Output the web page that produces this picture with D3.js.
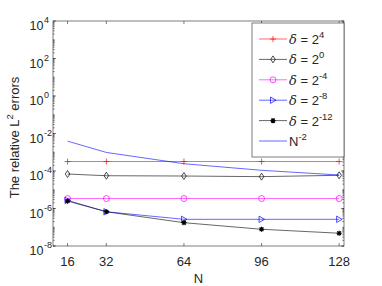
<!DOCTYPE html>
<html>
<head>
<meta charset="utf-8">
<script src="https://cdn.jsdelivr.net/npm/d3@7"></script>
<style>
  body { margin: 0; background: #fff; }
  text { font-family: "Liberation Sans", Arial, sans-serif; fill: #262626; }
</style>
</head>
<body>
<svg id="chart" width="382" height="286"></svg>
<script>
// data
const N = [16, 32, 64, 96, 128];
const errD4 = [3.2e-4, 3.2e-4, 3.2e-4, 3.2e-4, 3.2e-4];
const errD0 = [6.9e-5, 5.6e-5, 5.4e-5, 5.0e-5, 5.9e-5];
const errDm4 = [3.4e-6, 3.4e-6, 3.4e-6, 3.4e-6, 3.4e-6];
const errDm8 = [2.7e-6, 6.7e-7, 2.65e-7, 2.65e-7, 2.65e-7];
const errDm12 = [2.5e-6, 6.7e-7, 1.75e-7, 7.8e-8, 4.8e-8];
const refN2 = [3.91e-3, 9.77e-4, 2.44e-4, 1.09e-4, 6.10e-5];
const xTicks = [16, 32, 64, 96, 128];
const yExps = [4, 2, 0, -2, -4, -6, -8];

const svg = d3.select('#chart');
const L = 53, R = 344, T = 21, B = 246;
const x = d3.scaleLinear().domain([10, 130]).range([L, R]);
const y = d3.scaleLog().domain([1e-8, 1e4]).range([B, T]);
const axisCol = '#262626';

// box
svg.append('rect').attr('x', L).attr('y', T).attr('width', R - L).attr('height', B - T)
  .attr('fill', 'none').attr('stroke', axisCol).attr('stroke-width', 0.6);

// minor log ticks on left & right
let minors = [];
for (let e = -8; e < 4; e++) for (let m = 1; m < 10; m++) minors.push(m * Math.pow(10, e));
const tk = svg.append('g').attr('stroke', axisCol).attr('stroke-width', 0.6);
minors.forEach(v => {
  const yy = y(v);
  tk.append('line').attr('x1', L).attr('x2', L + 1.6).attr('y1', yy).attr('y2', yy);
  tk.append('line').attr('x1', R).attr('x2', R - 1.6).attr('y1', yy).attr('y2', yy);
});
yExps.forEach(e => {
  const yy = y(Math.pow(10, e));
  tk.append('line').attr('x1', L).attr('x2', L + 3).attr('y1', yy).attr('y2', yy);
  tk.append('line').attr('x1', R).attr('x2', R - 3).attr('y1', yy).attr('y2', yy);
});
xTicks.forEach(v => {
  tk.append('line').attr('x1', x(v)).attr('x2', x(v)).attr('y1', B).attr('y2', B - 3);
  tk.append('line').attr('x1', x(v)).attr('x2', x(v)).attr('y1', T).attr('y2', T + 3);
});

// y tick labels 10^e
yExps.forEach(e => {
  svg.append('text').attr('x', 43.5).attr('y', y(Math.pow(10, e)) + 9)
    .attr('text-anchor', 'end').attr('font-size', 12.5).text('10');
  svg.append('text').attr('x', 44).attr('y', y(Math.pow(10, e)) + 2)
    .attr('font-size', 9).text(e);
});

// x tick labels
svg.selectAll('.xl').data(xTicks).enter().append('text')
  .attr('x', d => x(d)).attr('y', 265.5).attr('text-anchor', 'middle')
  .attr('font-size', 13).text(d => d);

svg.append('text').attr('x', (L + R) / 2).attr('y', 283).attr('text-anchor', 'middle')
  .attr('font-size', 13).text('N');

const yl = svg.append('text').attr('transform', `translate(19,${(T + B) / 2 + 4}) rotate(-90)`)
  .attr('text-anchor', 'middle').attr('font-size', 13);
yl.append('tspan').text('The relative L');
yl.append('tspan').attr('font-size', 9.5).attr('dy', -6).text('2');
yl.append('tspan').attr('dy', 6).text(' errors');

// series
const series = [
  { vals: errD4, color: '#ff0000', marker: 'plus', label: ['δ', ' = 2', '4'] },
  { vals: errD0, color: '#000000', marker: 'diamond', label: ['δ', ' = 2', '0'] },
  { vals: errDm4, color: '#ff00ff', marker: 'circle', label: ['δ', ' = 2', '-4'] },
  { vals: errDm8, color: '#0000ff', marker: 'tri', label: ['δ', ' = 2', '-8'] },
  { vals: errDm12, color: '#000000', marker: 'star', label: ['δ', ' = 2', '-12'] },
  { vals: refN2, color: '#0000ff', marker: null, label: ['', 'N', '-2'] }
];

const line = d3.line().x((d, i) => x(N[i])).y(d => y(d));

function drawMarker(g, kind, cx, cy, color) {
  const m = g.append('g').attr('transform', `translate(${cx},${cy})`)
    .attr('stroke', color).attr('stroke-width', 0.7).attr('fill', 'none');
  if (kind === 'plus') {
    m.append('path').attr('d', 'M-3,0H3M0,-3V3');
  } else if (kind === 'diamond') {
    m.append('path').attr('d', 'M0,-3.5L2.3,0L0,3.5L-2.3,0Z');
  } else if (kind === 'circle') {
    m.append('circle').attr('r', 3);
  } else if (kind === 'tri') {
    m.append('path').attr('d', 'M-2.5,-3.2L3,0L-2.5,3.2Z');
  } else if (kind === 'star') {
    m.append('path').attr('d', 'M-2.6,0H2.6M0,-2.6V2.6M-1.9,-1.9L1.9,1.9M-1.9,1.9L1.9,-1.9')
      .attr('stroke-width', 1.2);
  }
}

const plotG = svg.append('g');
series.forEach(s => {
  plotG.append('path').datum(s.vals).attr('d', line)
    .attr('fill', 'none').attr('stroke', s.color).attr('stroke-width', 0.6);
  if (s.marker) s.vals.forEach((v, i) => drawMarker(plotG, s.marker, x(N[i]), y(v), s.color));
});

// legend
const lg = svg.append('g');
lg.append('rect').attr('x', 252).attr('y', 23).attr('width', R - 252).attr('height', 134)
  .attr('fill', '#fff').attr('stroke', axisCol).attr('stroke-width', 0.6);
series.forEach((s, i) => {
  const ly = 39 + i * 20.4;
  lg.append('line').attr('x1', 259).attr('x2', 287).attr('y1', ly).attr('y2', ly)
    .attr('stroke', s.color).attr('stroke-width', 0.6);
  if (s.marker) drawMarker(lg, s.marker, 273, ly, s.color);
  const t = lg.append('text').attr('x', 289).attr('y', ly + 5).attr('font-size', 13);
  if (s.label[0]) t.append('tspan').attr('font-style', 'italic')
    .attr('font-family', '"DejaVu Serif", serif').text(s.label[0]);
  t.append('tspan').text(s.label[1]);
  t.append('tspan').attr('font-size', 9.5).attr('dy', -6).text(s.label[2]);
});
</script>
</body>
</html>
